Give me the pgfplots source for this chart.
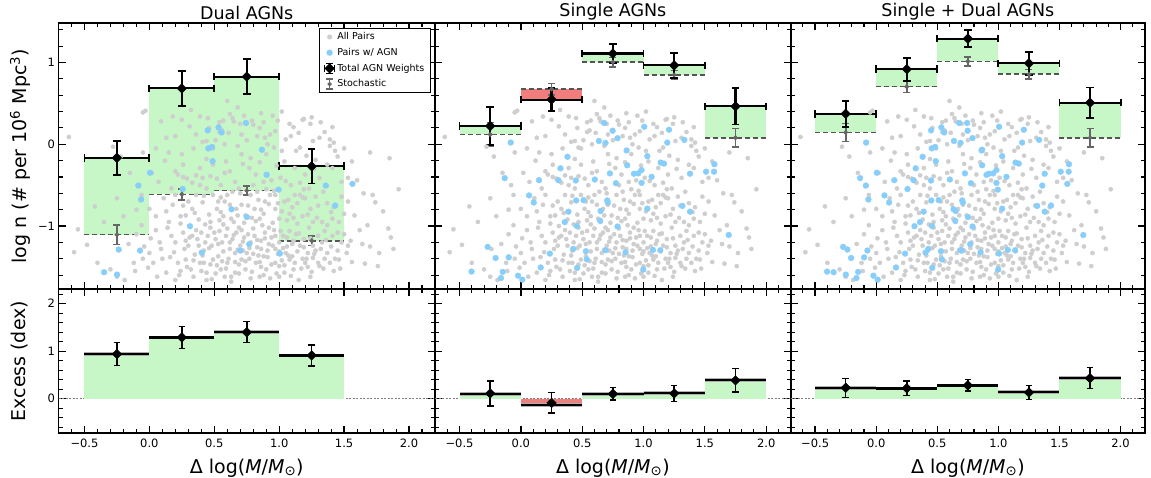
\documentclass[border=0pt]{standalone}
\usepackage{pgfplots}
\pgfplotsset{compat=1.18}
\usepackage{pgfplotstable}
\usepackage{fontspec}
\setmainfont{DejaVu Sans}
\definecolor{ptgray}{RGB}{206,206,206}
\definecolor{ptblue}{RGB}{135,206,250}
\definecolor{fgreen}{RGB}{199,246,199}
\definecolor{fred}{RGB}{242,125,125}
\definecolor{stoch}{RGB}{102,102,102}
\definecolor{dashc}{RGB}{85,85,85}

\pgfplotstableread{
x y
-0.62 0.09
-0.28 -0.03
-0.22 -0.15
-0.05 -0.10
0.13 0.08
0.25 -0.12
0.60 0.53
-0.05 0.39
-0.03 0.41
0.09 0.28
0.18 0.34
0.25 0.30
0.32 0.42
0.39 0.34
0.54 0.27
0.57 0.29
0.62 0.37
0.64 0.32
0.65 0.28
0.70 0.25
0.79 0.29
0.80 0.24
0.88 0.27
0.99 0.29
1.08 0.25
1.11 0.21
1.18 0.30
1.19 0.31
1.25 0.33
1.24 0.25
1.32 0.27
1.41 0.21
0.41 0.03
0.44 0.04
0.47 -0.04
0.49 -0.05
0.54 0.15
0.56 0.17
0.58 0.00
0.71 0.12
0.83 0.10
0.89 0.08
0.91 0.00
0.93 0.12
0.96 -0.04
1.05 0.06
1.09 0.10
1.13 -0.08
1.16 -0.04
1.26 0.04
1.31 0.08
1.39 0.06
1.42 0.02
1.39 -0.02
1.43 -0.08
1.70 -0.10
1.85 -0.17
1.56 -0.21
1.04 -0.21
0.90 -0.12
0.71 -0.12
0.78 -0.17
0.59 -0.21
0.49 -0.25
0.39 -0.29
0.26 -0.25
0.20 -0.33
0.02 -0.35
-0.08 -0.50
0.07 -0.46
0.22 -0.37
0.17 -0.54
0.39 -0.50
0.41 -0.41
0.47 -0.39
0.52 -0.42
0.55 -0.50
0.66 -0.46
0.69 -0.54
0.77 -0.29
0.82 -0.37
0.88 -0.46
0.90 -0.55
0.94 -0.44
1.01 -0.41
1.09 -0.50
1.12 -0.29
1.20 -0.37
1.23 -0.54
1.31 -0.41
1.37 -0.25
1.41 -0.29
1.48 -0.46
1.53 -0.41
1.60 -0.44
-0.25 -0.66
-0.42 -0.76
-0.06 -0.62
0.00 -0.79
0.11 -0.66
0.20 -0.62
0.26 -0.75
0.28 -0.87
0.33 -0.79
0.36 -0.62
0.44 -0.54
0.49 -0.62
0.52 -0.79
0.58 -0.70
0.60 -0.62
0.63 -0.91
0.67 -0.79
0.74 -0.87
0.78 -0.62
0.81 -0.79
0.85 -0.91
0.89 -0.70
0.93 -0.62
0.97 -0.79
1.00 -0.91
1.04 -0.70
1.08 -0.85
1.12 -0.62
1.16 -0.62
1.20 -0.66
1.24 -0.79
1.28 -0.64
1.33 -0.95
1.37 -0.99
1.41 -0.91
1.48 -0.64
1.53 -0.70
1.72 -0.62
1.74 -0.71
1.58 -0.87
1.42 -0.77
-0.55 -1.04
-0.48 -1.23
-0.24 -1.28
-0.16 -1.22
-0.06 -0.99
0.00 -1.33
0.09 -1.28
0.17 -1.12
0.20 -1.20
0.24 -0.97
0.26 -1.08
0.28 -1.18
0.30 -1.24
0.33 -1.12
0.37 -1.16
0.40 -1.08
0.43 -1.20
0.45 -1.12
0.48 -1.24
0.51 -1.16
0.54 -1.06
0.56 -1.20
0.59 -1.12
0.62 -1.28
0.64 -1.16
0.67 -1.08
0.70 -1.24
0.73 -1.14
0.75 -1.33
0.78 -1.20
0.81 -1.12
0.83 -1.26
0.86 -1.18
0.89 -1.08
0.92 -1.22
0.94 -1.14
0.97 -1.28
1.00 -1.20
1.03 -1.12
1.05 -1.33
1.08 -1.06
1.11 -1.18
1.13 -1.10
1.16 -1.24
1.19 -1.16
1.22 -1.33
1.26 -1.24
1.30 -1.12
1.33 -1.20
1.37 -1.33
1.41 -1.12
1.45 -1.08
1.48 -1.20
1.52 -1.33
1.68 -0.99
1.84 -1.03
1.86 -1.14
1.77 -1.33
1.64 -1.22
-0.30 -1.53
-0.25 -1.62
-0.19 -1.66
-0.11 -1.55
-0.01 -1.51
0.06 -1.62
0.13 -1.57
0.20 -1.66
0.24 -1.55
0.28 -1.41
0.32 -1.53
0.34 -1.62
0.39 -1.45
0.44 -1.57
0.49 -1.41
0.55 -1.53
0.58 -1.62
0.60 -1.45
0.66 -1.57
0.71 -1.41
0.74 -1.53
0.78 -1.64
0.82 -1.45
0.88 -1.37
0.90 -1.53
0.93 -1.64
0.97 -1.45
1.04 -1.57
1.08 -1.41
1.11 -1.53
1.15 -1.66
1.20 -1.45
1.26 -1.39
1.31 -1.49
1.39 -1.45
1.46 -1.41
1.56 -1.44
1.66 -1.46
1.76 -1.49
1.42 -1.55
0.35 -1.35
0.42 -1.30
0.47 -1.02
0.53 -1.37
0.57 -0.98
0.61 -1.40
0.66 -1.33
0.69 -1.02
0.72 -1.30
0.77 -1.40
0.80 -1.03
0.84 -1.36
0.87 -0.99
0.91 -1.38
0.96 -1.05
0.99 -1.34
1.02 -1.42
1.06 -1.25
1.10 -1.37
1.14 -0.97
1.18 -1.40
1.23 -1.02
1.28 -1.30
1.35 -1.06
0.31 -1.00
0.38 -0.92
0.46 -0.86
0.55 -0.83
0.65 -0.95
0.73 -0.96
0.86 -0.80
0.95 -0.96
1.06 -0.93
1.18 -0.88
1.29 -0.90
0.15 -0.95
0.10 -1.40
0.22 -1.45
0.52 -1.48
0.69 -1.47
0.86 -1.50
1.00 -1.49
1.22 -1.50
-0.35 -0.95
-0.10 -0.80
1.65 -0.60
1.80 -0.82
0.31 0.22
0.36 0.12
0.45 0.32
0.51 0.05
0.61 0.14
0.68 -0.02
0.75 0.05
0.85 0.20
0.97 0.16
1.02 -0.08
1.15 0.14
1.21 -0.14
1.28 -0.19
1.35 0.15
0.34 -0.05
0.29 -0.42
0.36 -0.38
0.44 -0.18
0.62 -0.33
0.72 -0.24
0.85 -0.22
0.98 -0.26
1.16 -0.47
1.27 -0.30
1.45 -0.15
1.50 -0.05
0.12 -0.20
0.05 -0.05
-0.15 -0.35
-0.20 -0.88
-0.10 -1.10
0.05 -1.05
0.13 -0.82
0.41 -0.71
0.55 -0.65
0.71 -0.74
0.84 -0.68
0.99 -0.72
1.10 -0.77
1.26 -0.95
1.37 -0.72
1.50 -0.85
1.62 -1.05
1.55 -1.18
1.70 -1.25
1.45 -1.30
1.35 -1.40
0.48 -1.65
0.63 -1.68
0.85 -1.62
1.00 -1.62
1.24 -1.62
0.42 -1.45
0.08 -1.20
-0.05 -1.40
-0.40 -1.45
-0.58 -1.32
1.92 -0.55
1.88 -1.28
0.14 -1.02
0.19 -1.32
0.23 -1.60
0.27 -1.28
0.29 -1.50
0.31 -1.14
0.34 -1.42
0.36 -1.05
0.38 -1.24
0.40 -1.55
0.41 -1.36
0.43 -0.98
0.44 -1.66
0.46 -1.27
0.47 -1.47
0.50 -1.08
0.51 -1.58
0.53 -1.22
0.54 -0.93
0.56 -1.43
0.57 -1.31
0.59 -1.52
0.60 -1.03
0.62 -1.20
0.63 -1.62
0.65 -1.11
0.66 -1.44
0.68 -1.29
0.69 -1.58
0.71 -1.05
0.72 -1.19
0.74 -1.43
0.76 -1.10
0.77 -1.27
0.79 -1.56
0.80 -1.34
0.82 -0.94
0.83 -1.17
0.85 -1.44
0.86 -1.28
0.88 -1.60
0.89 -1.15
0.91 -1.30
0.92 -1.02
0.94 -1.47
0.95 -1.24
0.97 -1.12
0.98 -1.58
1.00 -1.31
1.01 -1.06
1.03 -1.27
1.04 -1.48
1.06 -1.14
1.07 -1.36
1.09 -1.61
1.10 -1.22
1.12 -1.45
1.14 -1.31
1.15 -1.09
1.17 -1.52
1.19 -1.26
1.21 -1.40
1.24 -1.15
1.25 -1.56
1.27 -1.34
1.30 -1.45
1.32 -1.28
1.34 -1.52
1.36 -1.17
1.40 -1.25
1.43 -1.40
1.47 -1.52
1.50 -1.10
1.53 -1.24
0.18 -0.74
0.24 -0.88
0.30 -0.70
0.35 -0.84
0.42 -0.63
0.47 -0.95
0.53 -0.70
0.57 -0.88
0.62 -0.74
0.68 -0.87
0.70 -0.60
0.76 -0.75
0.79 -0.90
0.83 -0.58
0.88 -0.85
0.92 -0.73
0.96 -0.57
1.02 -0.82
1.07 -0.68
1.11 -0.90
1.14 -0.72
1.19 -0.55
1.22 -0.86
1.30 -0.75
1.34 -0.58
1.40 -0.83
1.46 -0.95
0.05 -0.88
0.01 -1.15
-0.04 -1.25
-0.12 -1.45
0.03 -1.45
0.16 -1.38
0.26 -0.40
0.33 -0.47
0.58 -0.35
0.64 -0.58
0.80 -0.50
0.97 -0.62
1.05 -0.45
1.18 -0.65
0.15 -0.10
0.20 0.10
0.46 0.20
0.73 0.35
0.95 0.35
1.02 0.40
0.68 0.45
0.86 0.38
}\graypts

\pgfplotstableread{
x y
-0.083 0.021
0.679 0.261
0.748 0.166
0.788 0.075
1.006 0.215
0.636 0.041
0.690 0.017
1.208 0.178
1.333 0.054
1.194 0.021
0.862 -0.075
0.380 -0.153
0.323 -0.294
1.031 -0.145
0.867 -0.257
-0.132 -0.414
0.148 -0.439
0.306 -0.439
0.448 -0.443
0.603 -0.431
0.726 -0.356
0.775 -0.476
0.922 -0.360
0.957 -0.356
0.984 -0.315
0.984 -0.472
1.066 -0.398
1.140 -0.224
1.167 -0.236
1.379 -0.360
1.510 -0.335
1.575 -0.335
1.578 -0.244
0.067 -0.625
0.105 -0.712
0.451 -0.687
0.511 -0.683
0.704 -0.687
0.709 -0.712
0.388 -0.824
0.650 -0.816
0.647 -0.936
1.031 -0.787
1.317 -0.754
1.379 -0.824
0.358 -0.952
0.456 -0.998
0.788 -1.006
1.695 -1.110
-0.271 -1.255
-0.206 -1.391
-0.099 -1.383
0.236 -1.337
0.426 -1.280
0.530 -1.308
0.538 -1.408
0.690 -1.296
0.854 -1.321
1.077 -1.292
1.137 -1.296
0.162 -1.507
0.459 -1.511
0.998 -1.532
-0.402 -1.557
-0.148 -1.561
-0.162 -1.636
-0.023 -1.607
0.012 -1.656
}\bluesingle

\pgfplotstableread{
x y
0.005 -0.348
-0.085 -0.505
-0.064 -0.675
0.449 0.170
0.533 0.207
0.556 0.145
0.454 -0.050
0.482 -0.033
0.487 -0.207
0.744 0.261
0.867 -0.066
0.903 -0.373
0.995 -0.555
1.359 -0.505
1.431 -0.749
1.564 -0.484
0.256 -0.547
0.633 -0.795
0.751 -0.890
0.313 -1.002
0.403 -1.325
0.700 -1.300
0.769 -1.222
1.005 -1.337
-0.236 -1.288
-0.072 -1.300
-0.349 -1.565
-0.249 -1.594
}\bluedual

% x, total, err, stochastic, err, half bin width
\pgfplotstableread{
x y ey s es ex
-0.25 -0.166 0.209 -1.106 0.118 0.25
0.25 0.683 0.217 -0.613 0.066 0.25
0.75 0.828 0.211 -0.567 0.054 0.25
1.25 -0.269 0.211 -1.180 0.060 0.25
}\dualtab
\pgfplotstableread{
x y ey s es ex
-0.25 0.224 0.236 0.120 0.145 0.25
0.25 0.547 0.140 0.675 0.070 0.25
0.75 1.110 0.113 1.006 0.058 0.25
1.25 0.965 0.155 0.849 0.056 0.25
1.75 0.464 0.222 0.079 0.113 0.25
}\singletab
\pgfplotstableread{
x y ey s es ex
-0.25 0.373 0.157 0.145 0.110 0.25
0.25 0.919 0.141 0.704 0.072 0.25
0.75 1.292 0.104 1.014 0.056 0.25
1.25 0.990 0.137 0.857 0.060 0.25
1.75 0.509 0.186 0.079 0.112 0.25
}\bothtab
% excess
\pgfplotstableread{
x y ey
-0.25 0.94 0.245
0.25 1.29 0.23
0.75 1.40 0.22
1.25 0.91 0.22
}\dualex
\pgfplotstableread{
x y ey
-0.25 0.11 0.265
0.25 -0.09 0.215
0.75 0.10 0.13
1.25 0.11 0.165
1.75 0.385 0.245
}\singleex
\pgfplotstableread{
x y ey
-0.25 0.23 0.20
0.25 0.22 0.15
0.75 0.28 0.12
1.25 0.13 0.15
1.75 0.43 0.22
}\bothex

\pgfplotsset{
  panel/.style={
    scale only axis, xmin=-0.7, xmax=2.2,
    tick align=inside, xtick pos=both, ytick pos=both,
    xticklabel pos=lower, yticklabel pos=left,
    xtick={-0.5,0,0.5,1,1.5,2},
    minor xtick={-0.6,-0.4,-0.3,-0.2,-0.1,0.1,0.2,0.3,0.4,0.6,0.7,0.8,0.9,1.1,1.2,1.3,1.4,1.6,1.7,1.8,1.9,2.1},
    major tick length=7pt, minor tick length=4pt,
    tick style={black, line width=1.3pt},
    minor tick style={line width=1.1pt},
    axis line style={line width=1.8pt},
    tick label style={font=\fontsize{11.5}{13}\selectfont},
    every axis title/.style={at={(axis description cs:0.5,1)}, anchor=south, font=\fontsize{17.5}{20}\selectfont},
    every axis x label/.style={at={(axis description cs:0.5,0)}, anchor=base, yshift=-40pt, font=\fontsize{19}{22}\selectfont},
    every axis y label/.style={rotate=90, anchor=center, font=\fontsize{19}{22}\selectfont},
  },
  toppanel/.style={panel, height=265.7pt, ymin=-1.77, ymax=1.48, ytick={-1,0,1},
    minor ytick={-1.6,-1.4,-1.2,-0.8,-0.6,-0.4,-0.2,0.2,0.4,0.6,0.8,1.2,1.4},
    xticklabels={}},
  botpanel/.style={panel, height=144.3pt, ymin=-0.73, ymax=2.31, ytick={0,1,2},
    minor ytick={-0.6,-0.4,-0.2,0.2,0.4,0.6,0.8,1.2,1.4,1.6,1.8,2.2},
    xticklabels={−0.5,0.0,0.5,1.0,1.5,2.0},
    xticklabel style={yshift=-2pt},
    xlabel={Δ log(\textit{M}/\textit{M}\textsubscript{⊙})}},
  grayscat/.style={only marks, mark=*, mark size=2.1pt, color=ptgray, forget plot},
  bluescat/.style={only marks, mark=*, mark size=2.9pt, color=ptblue, forget plot},
  dashl/.style={dashc, line width=1.5pt, dash pattern=on 5pt off 3pt, unbounded coords=jump, forget plot},
  stochbar/.style={stoch, line width=1.7pt, only marks, mark=*, mark size=1.4pt, forget plot,
    error bars/y dir=both, error bars/y explicit,
    error bars/error bar style={line width=1.7pt, stoch, solid},
    error bars/error mark options={rotate=90, line width=1.6pt, mark size=3.5pt, stoch}},
  totbar/.style={black, line width=2.1pt, only marks, mark=*, mark size=0.3pt, forget plot,
    error bars/x dir=both, error bars/x explicit, error bars/y dir=both, error bars/y explicit,
    error bars/error bar style={line width=2.1pt, black, solid},
    error bars/error mark options={rotate=90, line width=1.9pt, mark size=3.8pt, black}},
  diam/.style={black, only marks, mark=square*, mark size=3.4pt, mark options={rotate=45, fill=black, line width=0.4pt}, forget plot},
  exbar/.style={black, line width=1.4pt, only marks, mark=*, mark size=0.3pt, forget plot,
    error bars/y dir=both, error bars/y explicit,
    error bars/error bar style={line width=1.4pt, black, solid},
    error bars/error mark options={rotate=90, line width=1.4pt, mark size=3.3pt, black}},
  vtot/.style={black, line width=2.1pt, unbounded coords=jump, forget plot},
  vsto/.style={stoch, line width=1.7pt, unbounded coords=jump, forget plot},
  vex/.style={black, line width=1.5pt, unbounded coords=jump, forget plot},
  halo/.style={color={rgb,255:red,175;green,175;blue,175}, line width=3.8pt, unbounded coords=jump, forget plot},
  stepl/.style={black, line width=2.2pt, unbounded coords=jump, forget plot},
  zerol/.style={gray, line width=1pt, dash pattern=on 2pt off 1.5pt, forget plot},
}

\begin{document}
\begin{tikzpicture}
\useasboundingbox (0,0) rectangle (1151pt,478pt);

% ---------------- Dual AGNs (top) ----------------
\begin{axis}[toppanel, at={(58.5pt,189pt)}, anchor=south west, width=376.5pt,
  yticklabels={−1,0,1}, title={Dual AGNs},
  ylabel={log n (\# per 10\textsuperscript{6} Mpc\textsuperscript{3})},
  ylabel style={at={(axis description cs:-0.1023,0.5)}},
  legend style={at={(axis description cs:0.989,0.982)}, anchor=north east, draw=black, line width=1pt,
    fill=white, font=\fontsize{9.5}{11}\selectfont, inner xsep=4pt, inner ysep=2pt, row sep=3pt,
    /tikz/every even column/.append style={column sep=5pt}},
  legend cell align=left]
\addplot[fill=fgreen, draw=none, forget plot] coordinates {(-0.5,-1.106) (0,-1.106) (0,-0.166) (-0.5,-0.166)};
\addplot[fill=fgreen, draw=none, forget plot] coordinates {(0,-0.613) (0.5,-0.613) (0.5,0.683) (0,0.683)};
\addplot[fill=fgreen, draw=none, forget plot] coordinates {(0.5,-0.567) (1,-0.567) (1,0.828) (0.5,0.828)};
\addplot[fill=fgreen, draw=none, forget plot] coordinates {(1,-1.180) (1.5,-1.180) (1.5,-0.269) (1,-0.269)};
\addplot[grayscat] table {\graypts};
\addplot[bluescat] table {\bluedual};
\addplot[dashl] coordinates {(-0.5,-1.106) (0,-1.106) (nan,nan) (0,-0.613) (0.5,-0.613) (nan,nan) (0.5,-0.567) (1,-0.567) (nan,nan) (1,-1.180) (1.5,-1.180)};
\addplot[stochbar] table[x=x, y=s, y error=es] {\dualtab};
\addplot[vsto] coordinates {(-0.25,-1.224) (-0.25,-0.988) (nan,nan) (0.25,-0.679) (0.25,-0.547) (nan,nan) (0.75,-0.621) (0.75,-0.513) (nan,nan) (1.25,-1.240) (1.25,-1.120)};
\addplot[totbar] table[x=x, y=y, x error=ex, y error=ey] {\dualtab};
\addplot[vtot] coordinates {(-0.25,-0.375) (-0.25,0.043) (nan,nan) (0.25,0.466) (0.25,0.900) (nan,nan) (0.75,0.617) (0.75,1.039) (nan,nan) (1.25,-0.480) (1.25,-0.058)};
\addplot[diam] table[x=x, y=y] {\dualtab};
\addlegendimage{only marks, mark=*, mark size=2pt, color=ptgray}
\addlegendentry{All Pairs}
\addlegendimage{only marks, mark=*, mark size=2.6pt, color=ptblue}
\addlegendentry{Pairs w/ AGN}
\addlegendimage{legend image code/.code={
  \draw[black, line width=1.3pt] (0.3cm,-5pt)--(0.3cm,5pt) (0.3cm-5pt,0pt)--(0.3cm+5pt,0pt);
  \draw[black, line width=1.3pt] (0.3cm-5pt,-3.5pt)--(0.3cm-5pt,3.5pt) (0.3cm+5pt,-3.5pt)--(0.3cm+5pt,3.5pt)
     (0.3cm-3.5pt,-5pt)--(0.3cm+3.5pt,-5pt) (0.3cm-3.5pt,5pt)--(0.3cm+3.5pt,5pt);
  \fill[black] (0.3cm-4.5pt,0pt) -- (0.3cm,4.5pt) -- (0.3cm+4.5pt,0pt) -- (0.3cm,-4.5pt) -- cycle;}}
\addlegendentry{Total AGN Weights}
\addlegendimage{legend image code/.code={
  \draw[stoch, line width=1.3pt] (0.3cm,-5pt)--(0.3cm,5pt) (0.3cm-3.5pt,-5pt)--(0.3cm+3.5pt,-5pt) (0.3cm-3.5pt,5pt)--(0.3cm+3.5pt,5pt);
  \fill[stoch] (0.3cm,0pt) circle (1.6pt);}}
\addlegendentry{Stochastic}
\end{axis}

% ---------------- Single AGNs (top) ----------------
\begin{axis}[toppanel, at={(435pt,189pt)}, anchor=south west, width=355.7pt,
  yticklabels={}, title={Single AGNs}]
\addplot[fill=fgreen, draw=none, forget plot] coordinates {(-0.5,0.120) (0,0.120) (0,0.224) (-0.5,0.224)};
\addplot[fill=fred, draw=none, forget plot] coordinates {(0,0.547) (0.5,0.547) (0.5,0.675) (0,0.675)};
\addplot[fill=fgreen, draw=none, forget plot] coordinates {(0.5,1.006) (1,1.006) (1,1.110) (0.5,1.110)};
\addplot[fill=fgreen, draw=none, forget plot] coordinates {(1,0.849) (1.5,0.849) (1.5,0.965) (1,0.965)};
\addplot[fill=fgreen, draw=none, forget plot] coordinates {(1.5,0.079) (2,0.079) (2,0.464) (1.5,0.464)};
\addplot[grayscat] table {\graypts};
\addplot[bluescat] table {\bluesingle};
\addplot[dashl] coordinates {(-0.5,0.120) (0,0.120) (nan,nan) (0,0.675) (0.5,0.675) (nan,nan) (0.5,1.006) (1,1.006) (nan,nan) (1,0.849) (1.5,0.849) (nan,nan) (1.5,0.079) (2,0.079)};
\addplot[stochbar] table[x=x, y=s, y error=es] {\singletab};
\addplot[vsto] coordinates {(-0.25,-0.025) (-0.25,0.265) (nan,nan) (0.25,0.605) (0.25,0.745) (nan,nan) (0.75,0.948) (0.75,1.064) (nan,nan) (1.25,0.793) (1.25,0.905) (nan,nan) (1.75,-0.034) (1.75,0.192)};
\addplot[totbar] table[x=x, y=y, x error=ex, y error=ey] {\singletab};
\addplot[vtot] coordinates {(-0.25,-0.012) (-0.25,0.460) (nan,nan) (0.25,0.407) (0.25,0.687) (nan,nan) (0.75,0.997) (0.75,1.223) (nan,nan) (1.25,0.810) (1.25,1.120) (nan,nan) (1.75,0.242) (1.75,0.686)};
\addplot[diam] table[x=x, y=y] {\singletab};
\end{axis}

% ---------------- Single + Dual AGNs (top) ----------------
\begin{axis}[toppanel, at={(790.7pt,189pt)}, anchor=south west, width=354.3pt,
  yticklabels={}, title={Single + Dual AGNs}]
\addplot[fill=fgreen, draw=none, forget plot] coordinates {(-0.5,0.145) (0,0.145) (0,0.373) (-0.5,0.373)};
\addplot[fill=fgreen, draw=none, forget plot] coordinates {(0,0.704) (0.5,0.704) (0.5,0.919) (0,0.919)};
\addplot[fill=fgreen, draw=none, forget plot] coordinates {(0.5,1.014) (1,1.014) (1,1.292) (0.5,1.292)};
\addplot[fill=fgreen, draw=none, forget plot] coordinates {(1,0.857) (1.5,0.857) (1.5,0.990) (1,0.990)};
\addplot[fill=fgreen, draw=none, forget plot] coordinates {(1.5,0.079) (2,0.079) (2,0.509) (1.5,0.509)};
\addplot[grayscat] table {\graypts};
\addplot[bluescat] table {\bluesingle};
\addplot[bluescat] table {\bluedual};
\addplot[dashl] coordinates {(-0.5,0.145) (0,0.145) (nan,nan) (0,0.704) (0.5,0.704) (nan,nan) (0.5,1.014) (1,1.014) (nan,nan) (1,0.857) (1.5,0.857) (nan,nan) (1.5,0.079) (2,0.079)};
\addplot[stochbar] table[x=x, y=s, y error=es] {\bothtab};
\addplot[vsto] coordinates {(-0.25,0.035) (-0.25,0.255) (nan,nan) (0.25,0.632) (0.25,0.776) (nan,nan) (0.75,0.958) (0.75,1.070) (nan,nan) (1.25,0.797) (1.25,0.917) (nan,nan) (1.75,-0.033) (1.75,0.191)};
\addplot[totbar] table[x=x, y=y, x error=ex, y error=ey] {\bothtab};
\addplot[vtot] coordinates {(-0.25,0.216) (-0.25,0.530) (nan,nan) (0.25,0.778) (0.25,1.060) (nan,nan) (0.75,1.188) (0.75,1.396) (nan,nan) (1.25,0.853) (1.25,1.127) (nan,nan) (1.75,0.323) (1.75,0.695)};
\addplot[diam] table[x=x, y=y] {\bothtab};
\end{axis}

% ---------------- Excess panels ----------------
\begin{axis}[botpanel, at={(58.5pt,44.7pt)}, anchor=south west, width=376.5pt,
  yticklabels={0,1,2}, ylabel={Excess (dex)},
  ylabel style={at={(axis description cs:-0.1023,0.5)}}]
\addplot[zerol] coordinates {(-0.7,0) (2.2,0)};
\addplot[fill=fgreen, draw=none, forget plot] coordinates {(-0.5,0) (0,0) (0,0.94) (-0.5,0.94)};
\addplot[fill=fgreen, draw=none, forget plot] coordinates {(0,0) (0.5,0) (0.5,1.29) (0,1.29)};
\addplot[fill=fgreen, draw=none, forget plot] coordinates {(0.5,0) (1,0) (1,1.40) (0.5,1.40)};
\addplot[fill=fgreen, draw=none, forget plot] coordinates {(1,0) (1.5,0) (1.5,0.91) (1,0.91)};
\addplot[halo] coordinates {(-0.5,0.94) (0,0.94) (nan,nan) (0,1.29) (0.5,1.29) (nan,nan) (0.5,1.40) (1,1.40) (nan,nan) (1,0.91) (1.5,0.91)};
\addplot[stepl] coordinates {(-0.5,0.94) (0,0.94) (nan,nan) (0,1.29) (0.5,1.29) (nan,nan) (0.5,1.40) (1,1.40) (nan,nan) (1,0.91) (1.5,0.91)};
\addplot[exbar] table[x=x, y=y, y error=ey] {\dualex};
\addplot[vex] coordinates {(-0.25,0.695) (-0.25,1.185) (nan,nan) (0.25,1.06) (0.25,1.52) (nan,nan) (0.75,1.18) (0.75,1.62) (nan,nan) (1.25,0.69) (1.25,1.13)};
\addplot[diam] table[x=x, y=y] {\dualex};
\end{axis}

\begin{axis}[botpanel, at={(435pt,44.7pt)}, anchor=south west, width=355.7pt, yticklabels={}]
\addplot[zerol] coordinates {(-0.7,0) (2.2,0)};
\addplot[fill=fgreen, draw=none, forget plot] coordinates {(-0.5,0) (0,0) (0,0.104) (-0.5,0.104)};
\addplot[fill=fred, draw=none, forget plot] coordinates {(0,0) (0.5,0) (0.5,-0.128) (0,-0.128)};
\addplot[fill=fgreen, draw=none, forget plot] coordinates {(0.5,0) (1,0) (1,0.104) (0.5,0.104)};
\addplot[fill=fgreen, draw=none, forget plot] coordinates {(1,0) (1.5,0) (1.5,0.116) (1,0.116)};
\addplot[fill=fgreen, draw=none, forget plot] coordinates {(1.5,0) (2,0) (2,0.385) (1.5,0.385)};
\addplot[halo] coordinates {(-0.5,0.104) (0,0.104) (nan,nan) (0,-0.128) (0.5,-0.128) (nan,nan) (0.5,0.104) (1,0.104) (nan,nan) (1,0.116) (1.5,0.116) (nan,nan) (1.5,0.385) (2,0.385)};
\addplot[stepl] coordinates {(-0.5,0.104) (0,0.104) (nan,nan) (0,-0.128) (0.5,-0.128) (nan,nan) (0.5,0.104) (1,0.104) (nan,nan) (1,0.116) (1.5,0.116) (nan,nan) (1.5,0.385) (2,0.385)};
\addplot[exbar] table[x=x, y=y, y error=ey] {\singleex};
\addplot[vex] coordinates {(-0.25,-0.155) (-0.25,0.375) (nan,nan) (0.25,-0.305) (0.25,0.125) (nan,nan) (0.75,-0.03) (0.75,0.23) (nan,nan) (1.25,-0.055) (1.25,0.275) (nan,nan) (1.75,0.14) (1.75,0.63)};
\addplot[diam] table[x=x, y=y] {\singleex};
\end{axis}

\begin{axis}[botpanel, at={(790.7pt,44.7pt)}, anchor=south west, width=354.3pt, yticklabels={}]
\addplot[zerol] coordinates {(-0.7,0) (2.2,0)};
\addplot[fill=fgreen, draw=none, forget plot] coordinates {(-0.5,0) (0,0) (0,0.228) (-0.5,0.228)};
\addplot[fill=fgreen, draw=none, forget plot] coordinates {(0,0) (0.5,0) (0.5,0.215) (0,0.215)};
\addplot[fill=fgreen, draw=none, forget plot] coordinates {(0.5,0) (1,0) (1,0.278) (0.5,0.278)};
\addplot[fill=fgreen, draw=none, forget plot] coordinates {(1,0) (1.5,0) (1.5,0.133) (1,0.133)};
\addplot[fill=fgreen, draw=none, forget plot] coordinates {(1.5,0) (2,0) (2,0.430) (1.5,0.430)};
\addplot[halo] coordinates {(-0.5,0.228) (0,0.228) (nan,nan) (0,0.215) (0.5,0.215) (nan,nan) (0.5,0.278) (1,0.278) (nan,nan) (1,0.133) (1.5,0.133) (nan,nan) (1.5,0.430) (2,0.430)};
\addplot[stepl] coordinates {(-0.5,0.228) (0,0.228) (nan,nan) (0,0.215) (0.5,0.215) (nan,nan) (0.5,0.278) (1,0.278) (nan,nan) (1,0.133) (1.5,0.133) (nan,nan) (1.5,0.430) (2,0.430)};
\addplot[exbar] table[x=x, y=y, y error=ey] {\bothex};
\addplot[vex] coordinates {(-0.25,0.03) (-0.25,0.43) (nan,nan) (0.25,0.07) (0.25,0.37) (nan,nan) (0.75,0.16) (0.75,0.40) (nan,nan) (1.25,-0.02) (1.25,0.28) (nan,nan) (1.75,0.21) (1.75,0.65)};
\addplot[diam] table[x=x, y=y] {\bothex};
\end{axis}
\end{tikzpicture}
\end{document}
